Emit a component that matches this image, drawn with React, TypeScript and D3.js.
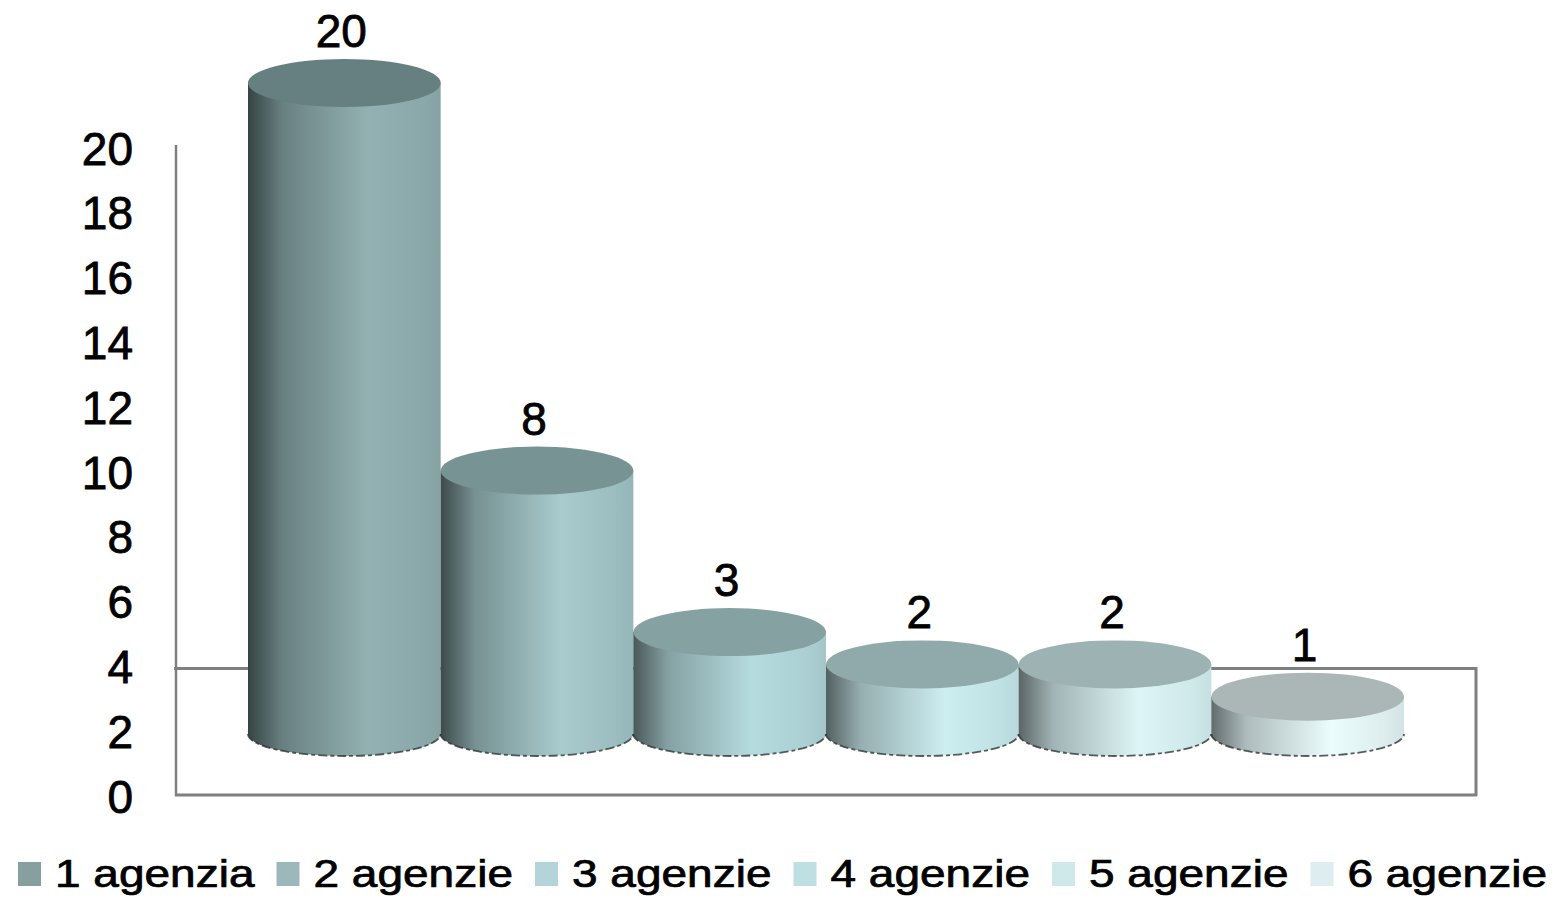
import React from "react";
import * as d3 from "d3";

const categories = ["1 agenzia", "2 agenzie", "3 agenzie", "4 agenzie", "5 agenzie", "6 agenzie"];
const values = [20, 8, 3, 2, 2, 1];
const yTicks = [0, 2, 4, 6, 8, 10, 12, 14, 16, 18, 20];
const legendColors = ["#889FA0", "#9CB8BA", "#B3D5D9", "#BFE0E3", "#CFE9EB", "#DEEEF0"];
const topColors = ["#667F80", "#789394", "#86A1A2", "#90A9AA", "#9CB2B3", "#ABB6B7"];
const sideDark = ["#364344", "#3D4A4B", "#4A5859", "#536061", "#5A6566", "#616B6C"];
const sideLight = ["#93B1B2", "#A8CBCD", "#B6DCE0", "#CDEEF1", "#DDF5F6", "#ECFDFE"];
const sideRight = ["#86A3A4", "#95B6B8", "#A4C6C9", "#B8D8DB", "#C6E0E2", "#D3E2E3"];

const W = 1559;
const H = 900;
const FONT = "'Liberation Sans', Arial, Helvetica, sans-serif";

export default function App() {
  const x = d3.scaleBand<string>().domain(categories).range([248, 1404]).padding(0);
  const yAxis = d3.scaleLinear().domain([0, 20]).range([796, 148]);
  const yBar = d3.scaleLinear().domain([0, 20]).range([729, 83]);
  const bottomCy = 734;
  const ryTop = 24;
  const ryBot = 22;
  const bw = x.bandwidth();
  const rx = bw / 2;

  return (
    <svg width={W} height={H} style={{ position: "absolute", left: 0, top: 0, background: "#fff" }}>
      <defs>
        {categories.map((c, i) => (
          <linearGradient key={c} id={`side${i}`} x1="0" x2="1" y1="0" y2="0">
            <stop offset="0" stopColor={sideDark[i]} />
            <stop offset="0.18" stopColor={d3.interpolateRgb(sideDark[i], sideLight[i])(0.55)} />
            <stop offset="0.62" stopColor={sideLight[i]} />
            <stop offset="0.9" stopColor={d3.interpolateRgb(sideLight[i], sideRight[i])(0.6)} />
            <stop offset="1" stopColor={sideRight[i]} />
          </linearGradient>
        ))}
      </defs>

      {/* floor / walls */}
      <g stroke="#7F7F7F" fill="none">
        <line x1={176} x2={176} y1={145} y2={796} strokeWidth={2.5} />
        <line x1={174} x2={1477} y1={668.5} y2={668.5} strokeWidth={3} />
        <line x1={1476} x2={1476} y1={667} y2={796} strokeWidth={3} />
        <line x1={175} x2={1477} y1={795} y2={795} strokeWidth={3} />
      </g>

      {/* y axis labels */}
      <g fontFamily={FONT} fontSize={46} fill="#000" stroke="#000" strokeWidth={0.8} textAnchor="end">
        {yTicks.map((t) => (
          <text key={t} x={133} y={yAxis(t)} dy="0.36em">
            {t}
          </text>
        ))}
      </g>

      {/* cylinders */}
      {categories.map((c, i) => {
        const x0 = x(c) as number;
        const x1 = x0 + bw;
        const cx = x0 + rx;
        const ty = yBar(values[i]);
        const side = `M${x0},${ty} L${x0},${bottomCy} A${rx},${ryBot} 0 0 0 ${x1},${bottomCy} L${x1},${ty} Z`;
        const rim = `M${x0},${bottomCy} A${rx},${ryBot} 0 0 0 ${x1},${bottomCy}`;
        return (
          <g key={c}>
            <path d={side} fill={`url(#side${i})`} />
            <path d={rim} fill="none" stroke="#2E3535" strokeWidth={1.8} strokeDasharray="9,3,4,3" opacity={0.8} />
            <ellipse cx={cx} cy={ty} rx={rx} ry={ryTop} fill={topColors[i]} />
          </g>
        );
      })}

      {/* value labels */}
      <g fontFamily={FONT} fontSize={46} fill="#000" stroke="#000" strokeWidth={0.8} textAnchor="middle">
        {categories.map((c, i) => (
          <text key={c} x={(x(c) as number) + rx - 3} y={yBar(values[i]) - ryTop - 12}>
            {values[i]}
          </text>
        ))}
      </g>

      {/* legend */}
      <g fontFamily={FONT}>
        {categories.map((c, i) => {
          const lx = 18 + i * 258.5;
          return (
            <g key={c}>
              <rect x={lx} y={862} width={23} height={24} fill={legendColors[i]} />
              <text
                transform={`translate(${lx + 37},887) scale(1,0.83)`}
                fontSize={46}
                fill="#000"
                stroke="#000"
                strokeWidth={0.9}
              >
                {c}
              </text>
            </g>
          );
        })}
      </g>
    </svg>
  );
}
